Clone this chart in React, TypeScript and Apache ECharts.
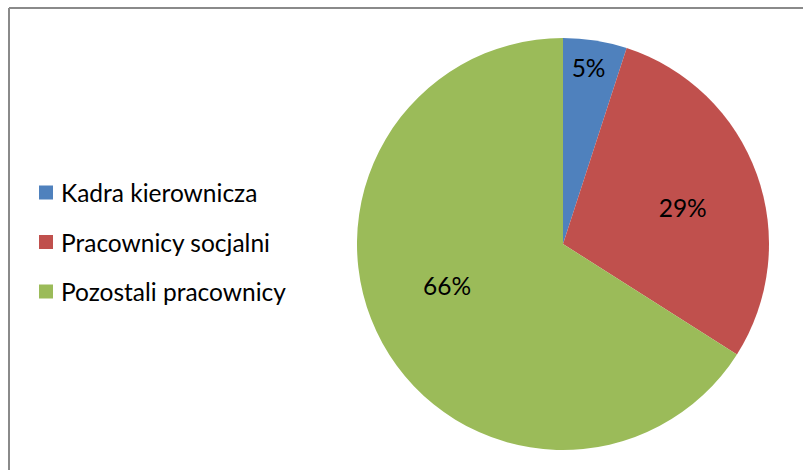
import React, { useEffect, useRef } from "react";
import * as echarts from "echarts";

const categories = ["Kadra kierownicza", "Pracownicy socjalni", "Pozostali pracownicy"];
const values = [5, 29, 66];
const colors = ["#4F81BD", "#C0504D", "#9BBB59"];
const labelOffsets = [
  [9, -72],
  [20, -1],
  [-23, -10],
];

export default function App() {
  const ref = useRef<HTMLDivElement>(null);
  useEffect(() => {
    document.body.style.margin = "0";
    const chart = echarts.init(ref.current!, null, { renderer: "svg" });
    const font = "Lato, 'Open Sans', sans-serif";
    chart.setOption({
      animation: false,
      backgroundColor: "#ffffff",
      color: colors,
      legend: {
        orient: "vertical",
        left: 39,
        top: 180,
        padding: 0,
        itemWidth: 14,
        itemHeight: 14,
        itemGap: 24.5,
        icon: "rect",
        selectedMode: false,
        textStyle: { fontFamily: font, fontSize: 24.5, lineHeight: 24, color: "#000", padding: [0, 0, 0, 3] },
        data: categories,
      },
      graphic: [
        { type: "line", shape: { x1: 9, y1: 8, x2: 803, y2: 8 }, style: { stroke: "#8a8a8a", lineWidth: 2 } },
        { type: "line", shape: { x1: 9, y1: 8, x2: 9, y2: 470 }, style: { stroke: "#8a8a8a", lineWidth: 2 } },
      ],
      series: [
        {
          type: "pie",
          center: [563, 244],
          radius: [0, 206],
          startAngle: 90,
          clockwise: true,
          silent: true,
          label: {
            show: true,
            position: "inside",
            formatter: "{d}%",
            fontFamily: font,
            fontSize: 24.5,
            color: "#000",
          },
          labelLine: { show: false },
          itemStyle: { borderWidth: 0 },
          data: categories.map((name, i) => ({
            name,
            value: values[i],
            label: { offset: labelOffsets[i] },
          })),
        },
      ],
    });
    return () => chart.dispose();
  }, []);
  return <div ref={ref} style={{ width: 803, height: 470 }} />;
}
